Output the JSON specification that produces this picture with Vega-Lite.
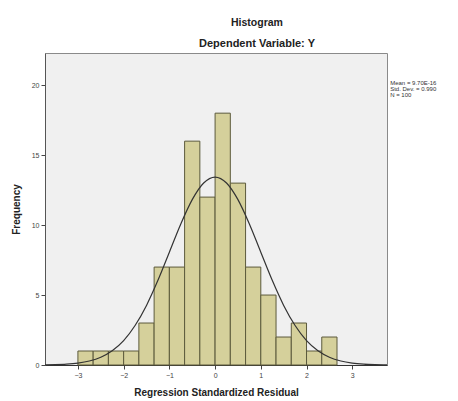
{
  "$schema": "https://vega.github.io/schema/vega-lite/v6.json",
  "width": 342,
  "height": 312,
  "autosize": "none",
  "padding": {"left": 45, "top": 53, "right": 71, "bottom": 36},
  "background": "white",
  "config": {
    "font": "Liberation Sans",
    "view": {"fill": "#f0f0f0", "stroke": "#8a8a8a", "strokeWidth": 1}
  },
  "title": {
    "text": "Histogram",
    "subtitle": "Dependent Variable: Y",
    "anchor": "middle",
    "dx": 41,
    "fontSize": 10.5,
    "fontWeight": "bold",
    "subtitleFontSize": 11,
    "subtitleFontWeight": "bold",
    "subtitleColor": "#222",
    "color": "#222",
    "subtitlePadding": 10,
    "offset": 4
  },
  "datasets": {
    "bins": [
      {"bin_start": -3.0, "bin_end": -2.6667, "count": 1},
      {"bin_start": -2.6667, "bin_end": -2.3333, "count": 1},
      {"bin_start": -2.3333, "bin_end": -2.0, "count": 1},
      {"bin_start": -2.0, "bin_end": -1.6667, "count": 1},
      {"bin_start": -1.6667, "bin_end": -1.3333, "count": 3},
      {"bin_start": -1.3333, "bin_end": -1.0, "count": 7},
      {"bin_start": -1.0, "bin_end": -0.6667, "count": 7},
      {"bin_start": -0.6667, "bin_end": -0.3333, "count": 16},
      {"bin_start": -0.3333, "bin_end": 0.0, "count": 12},
      {"bin_start": 0.0, "bin_end": 0.3333, "count": 18},
      {"bin_start": 0.3333, "bin_end": 0.6667, "count": 13},
      {"bin_start": 0.6667, "bin_end": 1.0, "count": 7},
      {"bin_start": 1.0, "bin_end": 1.3333, "count": 5},
      {"bin_start": 1.3333, "bin_end": 1.6667, "count": 2},
      {"bin_start": 1.6667, "bin_end": 2.0, "count": 3},
      {"bin_start": 2.0, "bin_end": 2.3333, "count": 1},
      {"bin_start": 2.3333, "bin_end": 2.6667, "count": 2}
    ],
    "curve": [
      {"x": -3.72, "y": 0.012},
      {"x": -3.5, "y": 0.026},
      {"x": -3.25, "y": 0.061},
      {"x": -3.0, "y": 0.136},
      {"x": -2.75, "y": 0.284},
      {"x": -2.5, "y": 0.554},
      {"x": -2.25, "y": 1.015},
      {"x": -2.0, "y": 1.74},
      {"x": -1.75, "y": 2.82},
      {"x": -1.5, "y": 4.26},
      {"x": -1.25, "y": 6.05},
      {"x": -1.0, "y": 8.06},
      {"x": -0.75, "y": 10.08},
      {"x": -0.5, "y": 11.82},
      {"x": -0.25, "y": 13.01},
      {"x": 0.0, "y": 13.43},
      {"x": 0.25, "y": 13.01},
      {"x": 0.5, "y": 11.82},
      {"x": 0.75, "y": 10.08},
      {"x": 1.0, "y": 8.06},
      {"x": 1.25, "y": 6.05},
      {"x": 1.5, "y": 4.26},
      {"x": 1.75, "y": 2.82},
      {"x": 2.0, "y": 1.74},
      {"x": 2.25, "y": 1.015},
      {"x": 2.5, "y": 0.554},
      {"x": 2.75, "y": 0.284},
      {"x": 3.0, "y": 0.136},
      {"x": 3.25, "y": 0.061},
      {"x": 3.5, "y": 0.026},
      {"x": 3.76, "y": 0.010}
    ],
    "stats": [
      {"x": 3.83, "y": 20.17, "label": "Mean = 9.70E-16"},
      {"x": 3.83, "y": 19.74, "label": "Std. Dev. = 0.990"},
      {"x": 3.83, "y": 19.31, "label": "N = 100"}
    ]
  },
  "layer": [
    {
      "data": {"name": "bins"},
      "mark": {"type": "rect", "fill": "#d5d09b", "stroke": "#5c5a3c", "strokeWidth": 1},
      "encoding": {
        "x": {
          "field": "bin_start",
          "type": "quantitative",
          "scale": {"domain": [-3.72, 3.76], "nice": false, "zero": false},
          "axis": {
            "values": [-3, -2, -1, 0, 1, 2, 3],
            "title": "Regression Standardized Residual",
            "titleFontSize": 10,
            "titleFontWeight": "bold",
            "titleColor": "#222",
            "titlePadding": 9,
            "labelFontSize": 7,
            "labelColor": "#444",
            "tickColor": "#444",
            "tickSize": 4,
            "domainColor": "#333",
            "grid": false
          }
        },
        "x2": {"field": "bin_end"},
        "y": {
          "field": "count",
          "type": "quantitative",
          "scale": {"domain": [0, 22.3], "nice": false},
          "axis": {
            "values": [0, 5, 10, 15, 20],
            "title": "Frequency",
            "titleFontSize": 10,
            "titleFontWeight": "bold",
            "titleColor": "#222",
            "titlePadding": 10,
            "labelFontSize": 7,
            "labelColor": "#444",
            "tickColor": "#444",
            "tickSize": 4,
            "domainColor": "#555",
            "grid": false
          }
        },
        "y2": {"datum": 0}
      }
    },
    {
      "data": {"name": "curve"},
      "mark": {"type": "line", "color": "#333", "strokeWidth": 1.2, "interpolate": "monotone"},
      "encoding": {
        "x": {"field": "x", "type": "quantitative"},
        "y": {"field": "y", "type": "quantitative"}
      }
    },
    {
      "data": {"name": "stats"},
      "mark": {"type": "text", "align": "left", "baseline": "middle", "fontSize": 6, "color": "#333", "clip": false},
      "encoding": {
        "x": {"field": "x", "type": "quantitative"},
        "y": {"field": "y", "type": "quantitative"},
        "text": {"field": "label"}
      }
    }
  ]
}
